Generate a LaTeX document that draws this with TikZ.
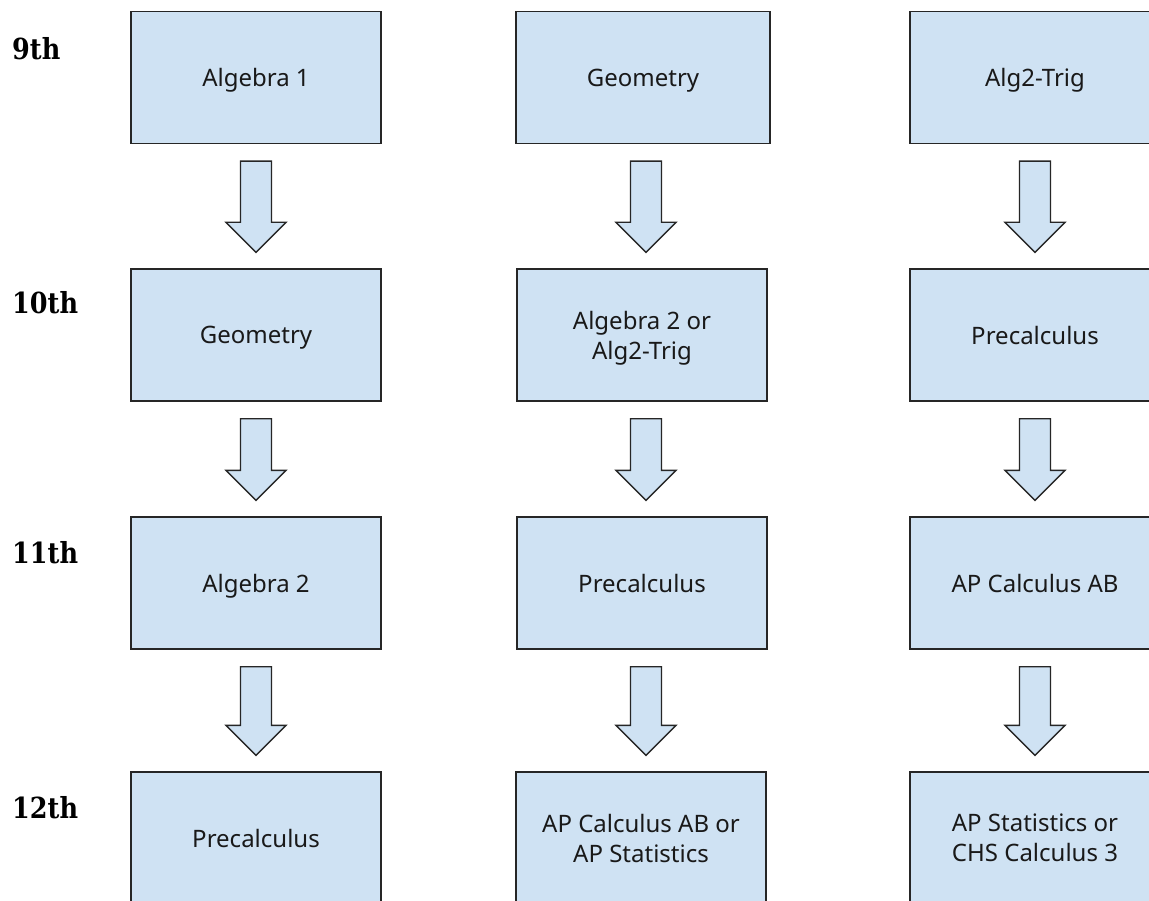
\documentclass[tikz,border=0pt]{standalone}
\usepackage{fontspec}
\setmainfont{Noto Sans}
\newfontfamily\gradefont{DejaVu Serif}[FakeStretch=0.88]
\usetikzlibrary{calc}
\definecolor{boxfill}{HTML}{CFE2F3}
\definecolor{boxline}{HTML}{262626}
\tikzset{
  course/.style={draw=boxline, fill=boxfill, line width=1.3pt, rectangle,
    minimum width=250pt, minimum height=132pt, inner sep=0pt, align=center,
    text depth=0pt, font=\fontsize{24}{30}\selectfont, text=black!90},
  grade/.style={anchor=base west, inner sep=0pt, font=\gradefont\bfseries\fontsize{29}{29}\selectfont, text=black},
  blockarrow/.style={draw=boxline, fill=boxfill, line width=1.3pt, line join=miter}
}
\newcommand{\blockarr}[3]{%
  \draw[blockarrow] let \p1=(#1.south), \p2=(#2.north) in
   (\x1+#3-15.5pt,\y1-17pt) -- (\x1+#3+15.5pt,\y1-17pt) -- (\x1+#3+15.5pt,\y2+46pt)
   -- (\x1+#3+30pt,\y2+46pt) -- (\x1+#3,\y2+16pt) -- (\x1+#3-30pt,\y2+46pt)
   -- (\x1+#3-15.5pt,\y2+46pt) -- cycle;}
\begin{document}
\begin{tikzpicture}[x=1pt,y=-1pt]
\clip (0,0) rectangle (1149,901);
\fill[white] (0,0) rectangle (1149,901);
% grade labels
\node[grade] (g9) at (12,60) {9th};
\node[grade] (g10) at (12,314) {10th};
\node[grade] (g11) at (12,563) {11th};
\node[grade] (g12) at (12,818) {12th};
% column 1
\node[course] (a1) at (256,77.5) {Algebra 1};
\node[course] (a2) at (256,335) {Geometry};
\node[course] (a3) at (256,583) {Algebra 2};
\node[course] (a4) at (256,838) {Precalculus};
% column 2
\node[course, minimum width=254pt] (b1) at (643,77.5) {Geometry};
\node[course] (b2) at (642,335) {Algebra 2 or\\Alg2-Trig};
\node[course] (b3) at (642,583) {Precalculus};
\node[course] (b4) at (641,838) {AP Calculus AB or\\AP Statistics};
% column 3
\node[course] (c1) at (1035,77.5) {Alg2-Trig};
\node[course] (c2) at (1035,335) {Precalculus};
\node[course] (c3) at (1035,583) {AP Calculus AB};
\node[course] (c4) at (1035,838) {AP Statistics or\\CHS Calculus 3};
% arrows
\blockarr{a1}{a2}{0pt}
\blockarr{a2}{a3}{0pt}
\blockarr{a3}{a4}{0pt}
\blockarr{b1}{b2}{3pt}
\blockarr{b2}{b3}{4pt}
\blockarr{b3}{b4}{4pt}
\blockarr{c1}{c2}{0pt}
\blockarr{c2}{c3}{0pt}
\blockarr{c3}{c4}{0pt}
\end{tikzpicture}
\end{document}
